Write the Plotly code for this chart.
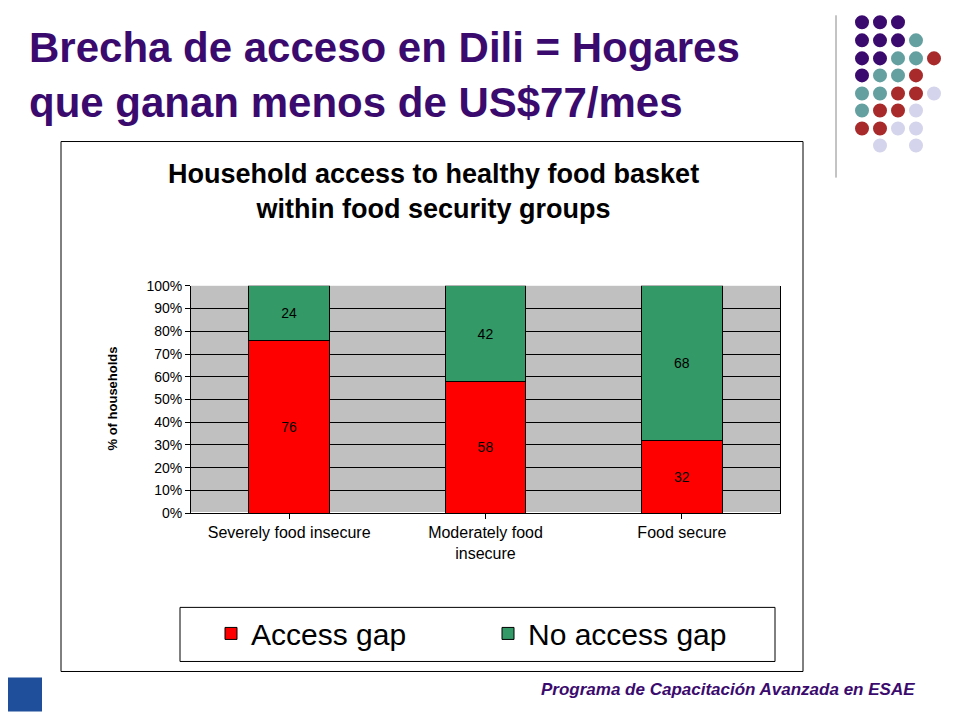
import plotly.graph_objects as go

categories = ["Severely food insecure", "Moderately food<br>insecure", "Food secure"]
access_gap = [76, 58, 32]
no_access_gap = [24, 42, 68]
yticks = [0, 10, 20, 30, 40, 50, 60, 70, 80, 90, 100]
yticklabels = [f"{v}%" for v in yticks]

W, H = 944, 720
def px(x): return (x - 8) / W
def py(y): return 1 - ((y - 15.7) / 0.976) / H

fig = go.Figure()
fig.add_bar(x=categories, y=access_gap, name="Access gap", marker=dict(color="#FF0000", line=dict(color="black", width=1)),
            text=[str(v) for v in access_gap], textposition="inside", insidetextanchor="middle",
            textfont=dict(color="black", size=14), hoverinfo="skip")
fig.add_bar(x=categories, y=no_access_gap, name="No access gap", marker=dict(color="#339966", line=dict(color="black", width=1)),
            text=[str(v) for v in no_access_gap], textposition="inside", insidetextanchor="middle",
            textfont=dict(color="black", size=14), hoverinfo="skip")

shapes = []
shapes.append(dict(type="rect", xref="paper", yref="paper", x0=px(61), x1=px(803), y0=py(670), y1=py(141),
                   line=dict(color="black", width=1), fillcolor="rgba(0,0,0,0)", layer="below"))
shapes.append(dict(type="rect", xref="paper", yref="paper", x0=px(180), x1=px(775), y0=py(660), y1=py(606),
                   line=dict(color="black", width=1), fillcolor="white", layer="below"))
shapes.append(dict(type="line", xref="paper", yref="paper", x0=px(836), x1=px(836), y0=py(15), y1=py(177),
                   line=dict(color="#888888", width=1)))
P, T, R, L = "#3B0A6E", "#64A0A0", "#A82A2A", "#D4D4EC"
grid = [[P, P, P, None, None], [P, P, P, T, None], [P, P, T, T, R], [P, T, T, R, None],
        [T, T, R, R, L], [T, R, R, L, None], [R, R, L, L, None], [None, L, None, L, None]]
xs = [862, 880, 898, 916, 934]
ys = [22, 40, 58, 75, 93, 110, 128, 145]
for r, row in enumerate(grid):
    for c, col in enumerate(row):
        if col:
            shapes.append(dict(type="circle", xref="paper", yref="paper",
                               x0=px(xs[c] - 7), x1=px(xs[c] + 7), y0=py(ys[r] + 7), y1=py(ys[r] - 7),
                               fillcolor=col, line=dict(width=0)))
shapes.append(dict(type="rect", xref="paper", yref="paper", x0=px(8), x1=px(42), y0=py(710), y1=py(676),
                   fillcolor="#1F4E9A", line=dict(width=0)))

annotations = [
    dict(text="<b>Brecha de acceso en Dili = Hogares<br>que ganan menos de US$77/mes</b>", xref="paper", yref="paper",
         x=px(27), y=py(22), xanchor="left", yanchor="top", align="left", showarrow=False,
         font=dict(family="Liberation Sans, Arial", size=42, color="#3B0A6E")),
    dict(text="<b>Household access to healthy food basket<br>within food security groups</b>", xref="paper", yref="paper",
         x=px(433), y=py(191), xanchor="center", yanchor="middle", showarrow=False,
         font=dict(family="Liberation Sans, Arial", size=27, color="black")),
    dict(text="<b>% of households</b>", xref="paper", yref="paper", x=px(103), y=py(398), textangle=-90,
         showarrow=False, font=dict(family="Liberation Sans, Arial", size=13, color="black")),
    dict(text="<b><i>Programa de Capacitación Avanzada en ESAE</i></b>", xref="paper", yref="paper",
         x=px(917), y=py(688), xanchor="right", yanchor="middle", showarrow=False,
         font=dict(family="Liberation Sans, Arial", size=17, color="#3B0A6E")),
]

fig.update_layout(
    width=W, height=H, margin=dict(l=0, r=0, t=0, b=0), barmode="stack", bargap=0.59,
    paper_bgcolor="white", plot_bgcolor="#C0C0C0", shapes=shapes, annotations=annotations,
    font=dict(family="Liberation Sans, Arial", color="black"),
    xaxis=dict(domain=[px(191), px(780)], showline=True, linecolor="black", ticks="outside", tickcolor="black",
               tickfont=dict(size=16), showgrid=False),
    yaxis=dict(domain=[py(512), py(285)], range=[0, 100], tickvals=yticks, ticktext=yticklabels, showline=True,
               linecolor="black", mirror=True, ticks="outside", tickcolor="black", gridcolor="black", gridwidth=1,
               tickfont=dict(size=14)),
    legend=dict(orientation="h", traceorder="normal", x=px(211), y=py(632), xanchor="left", yanchor="middle",
                font=dict(size=30), bgcolor="rgba(0,0,0,0)", itemwidth=30, entrywidth=232),
)
fig.write_html("out.html")
